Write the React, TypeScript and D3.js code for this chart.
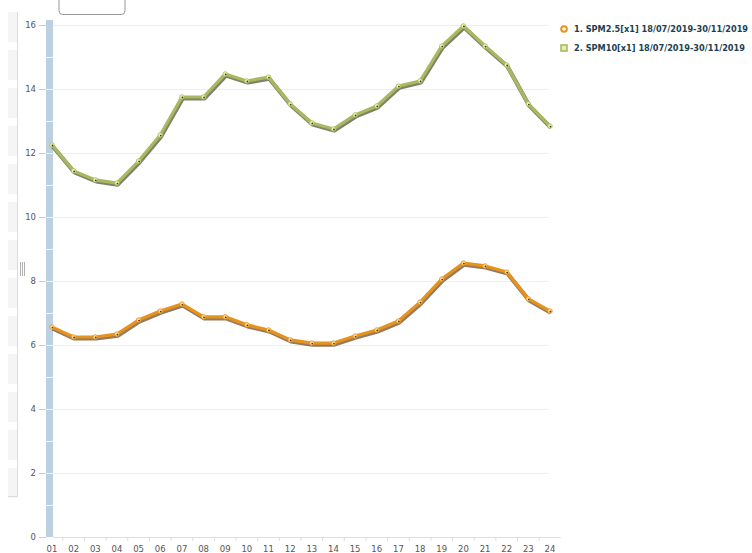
import { useEffect, useRef } from 'react';
import * as d3 from 'd3';

const hours = ['01', '02', '03', '04', '05', '06', '07', '08', '09', '10', '11', '12',
  '13', '14', '15', '16', '17', '18', '19', '20', '21', '22', '23', '24'];

const spm25 = [6.56, 6.25, 6.25, 6.34, 6.78, 7.06, 7.28, 6.88, 6.88, 6.63, 6.47, 6.16,
  6.06, 6.06, 6.28, 6.47, 6.75, 7.34, 8.06, 8.56, 8.47, 8.28, 7.44, 7.06];

const spm10 = [12.25, 11.44, 11.16, 11.06, 11.75, 12.56, 13.75, 13.75, 14.47, 14.25, 14.37, 13.53,
  12.94, 12.75, 13.19, 13.47, 14.09, 14.25, 15.34, 15.97, 15.34, 14.75, 13.53, 12.84];

const yTicks = [0, 2, 4, 6, 8, 10, 12, 14, 16];

const seriesNames = [
  '1. SPM2.5[x1] 18/07/2019-30/11/2019',
  '2. SPM10[x1] 18/07/2019-30/11/2019',
];

const App = () => {
  const svgRef = useRef<SVGSVGElement>(null);
  const width = 752;
  const height = 553;

  useEffect(() => {
    const svg = d3.select(svgRef.current);
    svg.selectAll('*').remove();

    const font = 'Verdana, "DejaVu Sans", sans-serif';
    const x = d3.scalePoint<string>().domain(hours).range([52, 550]);
    const y = d3.scaleLinear().domain([0, 16]).range([537, 25]);

    // left side panel with faint stripes
    const panel = svg.append('g');
    d3.range(0, 13).forEach(i => {
      panel.append('rect')
        .attr('x', 8).attr('y', 12 + i * 38)
        .attr('width', 9).attr('height', 30)
        .attr('fill', '#f5f5f5');
    });
    panel.append('line')
      .attr('x1', 17.5).attr('x2', 17.5).attr('y1', 12).attr('y2', 497)
      .attr('stroke', '#dcdcdc');
    panel.append('line')
      .attr('x1', 8).attr('x2', 17.5).attr('y1', 496.5).attr('y2', 496.5)
      .attr('stroke', '#dcdcdc');
    [20.5, 22.5, 24.5].forEach(hx => {
      panel.append('line')
        .attr('x1', hx).attr('x2', hx).attr('y1', 262).attr('y2', 276)
        .attr('stroke', '#b0b0b0');
    });

    // top tab
    svg.append('path')
      .attr('d', 'M59,-2 L59,11 Q59,14.5 63,14.5 L121,14.5 Q125,14.5 125,11 L125,-2')
      .attr('fill', '#fff').attr('stroke', '#999');

    // grid
    svg.append('g').selectAll('line')
      .data(yTicks.filter(d => d > 0))
      .enter().append('line')
      .attr('x1', 53).attr('x2', 548)
      .attr('y1', d => y(d) + 0.5).attr('y2', d => y(d) + 0.5)
      .attr('stroke', '#eeeeee');

    // blue axis bar
    svg.append('rect')
      .attr('x', 46).attr('y', 20).attr('width', 7).attr('height', 517)
      .attr('fill', '#bcd0e0');
    svg.append('g').selectAll('line')
      .data(d3.range(1, 16))
      .enter().append('line')
      .attr('x1', 46).attr('x2', 53)
      .attr('y1', d => y(d) + 0.5).attr('y2', d => y(d) + 0.5)
      .attr('stroke', '#eef3f8');

    // y axis labels
    const yAxis = svg.append('g');
    yAxis.selectAll('line')
      .data(yTicks)
      .enter().append('line')
      .attr('x1', 39).attr('x2', 46)
      .attr('y1', d => y(d) + 0.5).attr('y2', d => y(d) + 0.5)
      .attr('stroke', '#ccc');
    yAxis.selectAll('text')
      .data(yTicks)
      .enter().append('text')
      .attr('x', 36).attr('y', d => y(d))
      .attr('text-anchor', 'end')
      .attr('dominant-baseline', 'middle')
      .attr('font-family', font).attr('font-size', 8.5)
      .attr('fill', '#555')
      .text(d => d);

    // x axis
    const step = x.step();
    svg.append('line')
      .attr('x1', 53).attr('x2', 550 + step / 2)
      .attr('y1', 537.5).attr('y2', 537.5)
      .attr('stroke', '#ddd');
    svg.append('g').selectAll('line')
      .data(hours.slice(1))
      .enter().append('line')
      .attr('x1', d => (x(d) as number) - step / 2)
      .attr('x2', d => (x(d) as number) - step / 2)
      .attr('y1', 537).attr('y2', 541)
      .attr('stroke', '#ddd');
    svg.append('g').selectAll('text')
      .data(hours)
      .enter().append('text')
      .attr('x', d => x(d) as number).attr('y', 552)
      .attr('text-anchor', 'middle')
      .attr('font-family', font).attr('font-size', 8.5)
      .attr('fill', '#555')
      .text(d => d);

    // series
    const series = [
      { values: spm10, color: '#a9b95e', shadow: '#3a3f1c', fill: '#eef3b0' },
      { values: spm25, color: '#e6921c', shadow: '#5a3208', fill: '#fcdf90' },
    ];
    const line = d3.line<number>()
      .x((d, i) => x(hours[i]) as number)
      .y(d => y(d));

    series.forEach(s => {
      const g = svg.append('g');
      g.append('path')
        .datum(s.values)
        .attr('d', line)
        .attr('transform', 'translate(0.8,1.5)')
        .attr('fill', 'none')
        .attr('stroke', s.shadow)
        .attr('stroke-opacity', 0.65)
        .attr('stroke-width', 4.2)
        .attr('stroke-linejoin', 'round');
      g.append('path')
        .datum(s.values)
        .attr('d', line)
        .attr('fill', 'none')
        .attr('stroke', s.color)
        .attr('stroke-width', 3.2)
        .attr('stroke-linejoin', 'round');
      const dots = g.selectAll('g.dot')
        .data(s.values)
        .enter().append('g')
        .attr('class', 'dot')
        .attr('transform', (d, i) => `translate(${x(hours[i])},${y(d)})`);
      dots.append('circle')
        .attr('r', 2.3)
        .attr('fill', s.fill)
        .attr('stroke', s.color)
        .attr('stroke-width', 0.8);
      dots.append('circle')
        .attr('cx', 0.5).attr('cy', 0.5)
        .attr('r', 0.9)
        .attr('fill', s.shadow);
    });

    // legend
    const legend = svg.append('g').attr('transform', 'translate(560, 29)');
    legend.append('circle')
      .attr('cx', 4).attr('cy', 0).attr('r', 2.8)
      .attr('fill', '#fff').attr('stroke', '#e6921c').attr('stroke-width', 2);
    legend.append('rect')
      .attr('x', 1).attr('y', 16).attr('width', 6).attr('height', 6)
      .attr('fill', '#e8eeb0').attr('stroke', '#a9b95e').attr('stroke-width', 1.6);
    legend.selectAll('text')
      .data(seriesNames)
      .enter().append('text')
      .attr('x', 14).attr('y', (d, i) => i * 19)
      .attr('dominant-baseline', 'middle')
      .attr('font-family', font).attr('font-size', 8.2)
      .attr('font-weight', 'bold')
      .attr('fill', '#1c3f52')
      .text(d => d);
  }, []);

  return (
    <div className="chart-container">
      <svg ref={svgRef} width={width} height={height}
        style={{ position: 'absolute', left: 0, top: 0 }}></svg>
    </div>
  );
};

export default App;
